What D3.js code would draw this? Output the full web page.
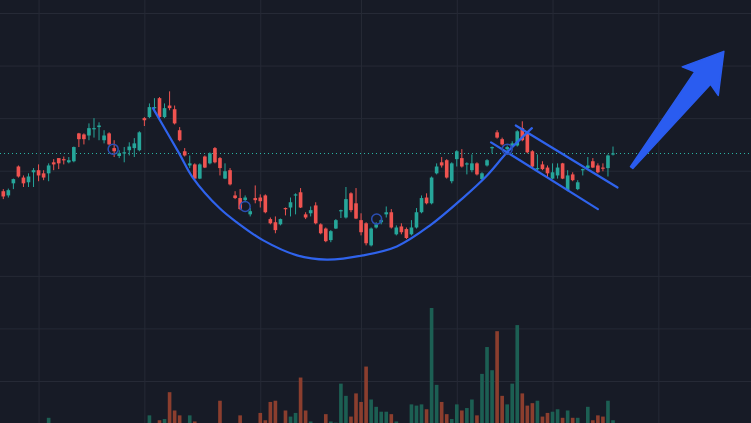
<!DOCTYPE html>
<html>
<head>
<meta charset="utf-8">
<script src="https://cdn.jsdelivr.net/npm/d3@7"></script>
<style>
    html, body { margin: 0; padding: 0; background: #171b26; overflow: hidden; }
    svg { display: block; }
</style>
</head>
<body>
<div id="chart"></div>
<script>
// daily bars, oldest first
const opens = [
    46.1, 45.3, 47.6, 50.8, 48.7, 47.8, 49.7, 50.1, 49.5, 49.5,
    51.6, 52.4, 52.2, 51.6, 51.8, 57.1, 56.9, 56.7, 57.9, 58.3,
    55.8, 57.1, 54.3, 52.8, 53.3, 53.9, 54.3, 53.9, 60.0, 60.2,
    61.9, 63.8, 60.2, 62.4, 61.7, 57.7, 53.7, 51.0, 51.2, 48.5,
    52.7, 51.4, 54.3, 52.4, 48.5, 50.1, 45.3, 44.8, 44.4, 41.7,
    44.8, 44.9, 45.3, 40.8, 40.2, 39.8, 42.9, 43.0, 45.3, 45.9,
    41.7, 41.9, 43.4, 39.8, 39.0, 36.8, 39.0, 42.3, 41.1, 45.7,
    43.8, 40.6, 40.0, 35.8, 39.2, 40.2, 41.7, 42.1, 37.9, 39.4,
    38.9, 37.9, 39.2, 42.1, 44.9, 43.8, 49.5, 51.6, 52.0, 48.0,
    52.2, 52.4, 51.2, 50.1, 51.4, 48.4, 51.0, 54.3, 57.3, 56.0,
    54.1, 54.6, 54.8, 58.1, 57.1, 53.7, 50.3, 51.2, 50.6, 48.5,
    49.1, 51.4, 46.3, 49.3, 46.5, 50.1, 50.5, 51.8, 51.0, 50.6,
    50.5, 53.1
];
const highs = [
    46.5, 46.6, 48.5, 51.0, 49.1, 49.5, 50.5, 51.2, 50.1, 51.4,
    52.2, 52.4, 52.7, 52.6, 54.6, 57.2, 57.1, 59.0, 60.0, 59.2,
    57.7, 57.3, 55.8, 53.9, 54.5, 55.4, 56.2, 57.5, 60.2, 62.8,
    63.8, 64.0, 62.8, 65.1, 62.4, 58.3, 54.3, 52.9, 51.4, 51.4,
    52.9, 53.5, 54.5, 52.6, 51.4, 50.5, 46.1, 46.5, 45.3, 42.9,
    47.2, 45.5, 45.5, 41.1, 41.3, 40.9, 43.0, 44.9, 45.7, 46.7,
    42.1, 43.2, 44.0, 40.0, 39.2, 38.7, 40.8, 42.6, 46.9, 45.9,
    46.7, 41.9, 40.2, 39.2, 40.2, 40.9, 43.2, 42.7, 39.6, 40.0,
    39.2, 40.6, 42.9, 45.3, 45.7, 48.9, 51.4, 52.6, 52.2, 51.6,
    53.9, 54.1, 51.6, 53.1, 51.6, 49.7, 52.2, 54.6, 57.7, 56.3,
    54.8, 55.6, 57.7, 59.4, 57.3, 53.9, 53.1, 51.8, 51.0, 51.4,
    51.4, 51.5, 50.1, 49.7, 48.2, 50.4, 52.6, 52.4, 51.4, 51.4,
    53.1, 54.6
];
const lows = [
    44.6, 44.9, 46.5, 48.7, 46.9, 46.9, 46.9, 48.0, 48.2, 48.0,
    50.1, 50.3, 51.2, 51.4, 51.6, 54.5, 55.0, 55.8, 56.3, 55.8,
    55.2, 54.8, 52.6, 52.4, 51.6, 52.9, 52.6, 53.7, 58.5, 60.0,
    61.1, 60.0, 60.0, 61.5, 58.8, 55.6, 52.7, 50.5, 48.4, 48.4,
    50.5, 51.2, 51.4, 49.1, 48.4, 47.2, 44.6, 42.5, 44.0, 41.3,
    43.8, 43.0, 41.9, 39.8, 38.1, 39.6, 41.5, 41.3, 41.7, 42.9,
    40.8, 41.3, 39.8, 37.9, 36.4, 36.4, 38.9, 41.0, 40.9, 42.1,
    40.8, 37.7, 35.8, 35.6, 39.0, 39.8, 41.1, 39.0, 37.7, 37.9,
    37.0, 37.7, 39.0, 41.9, 43.6, 43.6, 49.3, 50.6, 48.5, 47.6,
    50.8, 50.6, 49.3, 49.7, 49.1, 48.2, 50.8, 53.3, 56.1, 54.8,
    53.7, 54.3, 54.6, 55.6, 53.3, 50.5, 50.1, 50.1, 48.7, 48.4,
    48.5, 48.4, 46.1, 48.0, 46.3, 49.1, 50.3, 50.5, 49.5, 49.9,
    48.9, 52.9
];
const closes = [
    45.1, 46.3, 48.4, 48.9, 47.6, 48.9, 50.1, 49.1, 48.7, 51.0,
    51.2, 51.4, 52.0, 52.0, 54.5, 56.0, 56.0, 58.1, 58.1, 58.6,
    56.7, 55.0, 53.7, 53.3, 53.5, 54.6, 55.2, 57.3, 59.6, 62.1,
    62.1, 60.2, 61.9, 61.9, 59.0, 55.8, 52.9, 51.4, 48.5, 51.2,
    50.6, 53.3, 51.6, 50.5, 49.9, 47.4, 44.8, 42.7, 44.9, 42.3,
    44.4, 44.2, 42.1, 40.0, 38.7, 40.8, 42.7, 44.0, 45.5, 43.0,
    41.1, 42.5, 40.0, 38.1, 36.6, 38.5, 40.6, 42.5, 44.6, 42.5,
    40.9, 38.3, 36.2, 39.0, 39.8, 40.6, 42.1, 39.2, 39.2, 38.3,
    37.2, 39.2, 42.1, 44.8, 43.8, 48.7, 50.8, 51.0, 48.7, 51.4,
    53.7, 50.8, 51.4, 51.4, 49.3, 49.5, 52.0, 54.5, 56.3, 55.0,
    54.5, 55.2, 57.5, 55.8, 53.5, 50.8, 50.5, 50.3, 49.5, 49.7,
    50.6, 48.5, 49.1, 48.2, 47.8, 50.3, 51.0, 50.6, 49.7, 50.5,
    52.9, 53.3
];
const volumes = [
    3, 2, 4, 3, 2, 4, 3, 2, 3, 10,
    3, 2, 4, 3, 5, 4, 3, 2, 4, 3,
    3, 4, 5, 3, 2, 4, 3, 5, 4, 12,
    4, 8, 9, 31, 16, 12, 5, 12, 7, 4,
    5, 3, 5, 24, 4, 5, 4, 12, 5, 4,
    5, 14, 8, 23, 24, 5, 16, 11, 14, 43,
    16, 7, 5, 5, 13, 7, 6, 38, 28, 11,
    30, 23, 52, 25, 19, 15, 15, 13, 7, 4,
    5, 21, 20, 21, 17, 100, 37, 23, 13, 9,
    21, 16, 18, 25, 12, 46, 68, 49, 81, 28,
    21, 38, 86, 30, 20, 22, 24, 11, 14, 15,
    17, 10, 16, 10, 10, 5, 19, 8, 12, 11,
    24, 8
];

// grid: price levels and first bar of each month
const priceTicks = [10, 20, 30, 40, 50, 60, 70, 80];
const monthStarts = [7, 28, 51, 71, 90, 109, 130];

// drawings (bar index, price)
const cupIdx = [29.7, 34.9, 37.6, 43.0, 46.6, 51.5, 58.3, 64.2, 71.4, 78.1, 84.7, 91.2, 96.0, 100.0, 104.9];
const cupPrice = [61.9, 53.3, 48.7, 42.8, 40.0, 36.8, 33.9, 33.1, 33.9, 35.6, 39.6, 44.8, 49.1, 53.5, 58.1];
const flagUpper = [[101.7, 58.6], [121.9, 46.8]];
const flagLower = [[96.8, 55.4], [118.0, 42.7]];
const pivotIdx = [21.8, 48.0, 74.1, 100.0];
const pivotPrice = [54.1, 43.2, 40.8, 54.1];
const arrowFrom = [124.7, 50.6];
const arrowTo = [143.0, 72.7];

function candleChart() {

    let chartWidth = 751;
    let chartHeight = 423;

    let upColor = "#26a69a",
        downColor = "#ef5350",
        upVolColor = "#1c5f53",
        downVolColor = "#8b3e2e",
        drawColor = "#2f63ec";

    function chart(selection) {
        selection.each(function (bars) {

            let x = d3.scaleLinear()
                .domain([0, bars.length - 1])
                .range([3.3, 613]);

            let y = d3.scaleLinear()
                .domain([10, 80])
                .range([381, 13]);

            // volume overlay, base a little below the visible area
            let yVol = d3.scaleLinear()
                .domain([0, 100])
                .range([430, 308]);

            let step = x(1) - x(0);
            let bodyW = Math.max(1, step * 0.72);

            let svg = d3.select(this).append("svg")
                .attr("width", chartWidth)
                .attr("height", chartHeight);

            svg.append("rect")
                .attr("width", chartWidth)
                .attr("height", chartHeight)
                .attr("fill", "#171b26");

            // grid
            let gy = svg.append("g")
                .attr("class", "grid-y")
                .call(d3.axisLeft(y).tickValues(priceTicks).tickSize(-chartWidth).tickFormat(""));
            let gx = svg.append("g")
                .attr("class", "grid-x")
                .attr("transform", "translate(0," + chartHeight + ")")
                .call(d3.axisBottom(x).tickValues(monthStarts).tickSize(-chartHeight).tickFormat(""));
            [gy, gx].forEach(function (g) {
                g.select(".domain").remove();
                g.selectAll("line").attr("stroke", "#262a36").attr("stroke-width", 1);
            });

            // volume
            svg.append("g")
                .selectAll("rect")
                .data(bars)
                .enter()
                .append("rect")
                .attr("x", function (d) { return x(d.i) - bodyW / 2; })
                .attr("width", bodyW)
                .attr("y", function (d) { return yVol(d.volume); })
                .attr("height", function (d) { return yVol(0) - yVol(d.volume); })
                .attr("fill", function (d) { return d.close >= d.open ? upVolColor : downVolColor; });

            // last price line
            let last = bars[bars.length - 1].close;
            svg.append("line")
                .attr("x1", 0)
                .attr("x2", chartWidth)
                .attr("y1", Math.round(y(last)) + 0.5)
                .attr("y2", Math.round(y(last)) + 0.5)
                .attr("stroke", "#2bb3a3")
                .attr("stroke-width", 1)
                .attr("stroke-dasharray", "1 3")
                .attr("shape-rendering", "crispEdges");

            // candles
            let candle = svg.append("g")
                .selectAll("g")
                .data(bars)
                .enter()
                .append("g")
                .attr("fill", function (d) { return d.close >= d.open ? upColor : downColor; })
                .attr("stroke", function (d) { return d.close >= d.open ? upColor : downColor; });

            candle.append("line")
                .attr("x1", function (d) { return x(d.i); })
                .attr("x2", function (d) { return x(d.i); })
                .attr("y1", function (d) { return y(d.high); })
                .attr("y2", function (d) { return y(d.low); })
                .attr("stroke-width", 1);

            candle.append("rect")
                .attr("stroke", "none")
                .attr("x", function (d) { return x(d.i) - bodyW / 2; })
                .attr("width", bodyW)
                .attr("y", function (d) { return y(Math.max(d.open, d.close)); })
                .attr("height", function (d) {
                    return Math.max(1.2, Math.abs(y(d.open) - y(d.close)));
                });

            // cup
            let cup = d3.line()
                .x(function (d) { return x(d[0]); })
                .y(function (d) { return y(d[1]); })
                .curve(d3.curveCatmullRom);

            svg.append("path")
                .datum(d3.zip(cupIdx, cupPrice))
                .attr("fill", "none")
                .attr("stroke", drawColor)
                .attr("stroke-width", 2.2)
                .attr("stroke-linecap", "round")
                .attr("d", cup);

            // handle / flag
            svg.selectAll(".flag")
                .data([flagUpper, flagLower])
                .enter()
                .append("path")
                .attr("class", "flag")
                .attr("fill", "none")
                .attr("stroke", drawColor)
                .attr("stroke-width", 2.2)
                .attr("stroke-linecap", "round")
                .attr("d", d3.line().x(function (d) { return x(d[0]); }).y(function (d) { return y(d[1]); }));

            // pivots
            svg.selectAll(".pivot")
                .data(d3.zip(pivotIdx, pivotPrice))
                .enter()
                .append("circle")
                .attr("class", "pivot")
                .attr("cx", function (d) { return x(d[0]); })
                .attr("cy", function (d) { return y(d[1]); })
                .attr("r", 5)
                .attr("fill", "none")
                .attr("stroke", "#2b4fb4")
                .attr("stroke-width", 1.5);

            // arrow
            let x0 = x(arrowFrom[0]), y0 = y(arrowFrom[1]);
            let x1 = x(arrowTo[0]), y1 = y(arrowTo[1]);
            let len = Math.hypot(x1 - x0, y1 - y0);
            let ux = (x1 - x0) / len, uy = (y1 - y0) / len;
            let nx = -uy, ny = ux;
            function pt(along, side) {
                return [x0 + ux * along + nx * side, y0 + uy * along + ny * side];
            }
            let arrow = [
                pt(0, -1.5),
                pt(len - 34, -10),
                pt(len - 38, -23),
                pt(len, 0),
                pt(len - 38, 23),
                pt(len - 34, 10),
                pt(0, 1.5)
            ];
            svg.append("path")
                .attr("d", "M" + arrow.map(function (p) { return p.join(","); }).join("L") + "Z")
                .attr("fill", "#2a5cf0")
                .attr("stroke", "#2a5cf0")
                .attr("stroke-width", 1.5)
                .attr("stroke-linejoin", "round");
        });
    }

    chart.width = function (value) {
        if (!arguments.length) return chartWidth;
        chartWidth = value;
        return chart;
    };

    chart.height = function (value) {
        if (!arguments.length) return chartHeight;
        chartHeight = value;
        return chart;
    };

    return chart;
}

let bars = opens.map(function (o, i) {
    return { i: i, open: o, high: highs[i], low: lows[i], close: closes[i], volume: volumes[i] };
});

d3.select("#chart")
    .datum(bars)
    .call(candleChart().width(751).height(423));
</script>
</body>
</html>
